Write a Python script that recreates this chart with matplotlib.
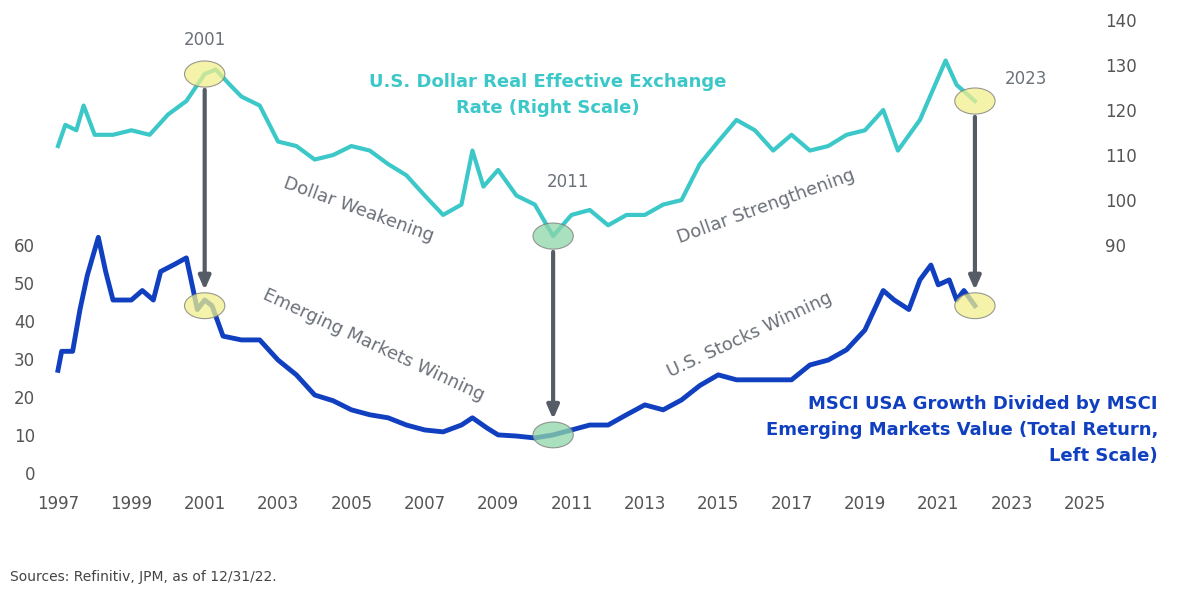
import matplotlib
matplotlib.use("Agg")
import matplotlib.pyplot as plt
from matplotlib.patches import Ellipse

usd_years = [1997.0,1997.2,1997.5,1997.7,1998.0,1998.5,1999.0,1999.5,2000.0,2000.5,2001.0,2001.3,2001.7,2002.0,2002.5,2003.0,2003.5,2004.0,2004.5,2005.0,2005.5,2006.0,2006.5,2007.0,2007.5,2008.0,2008.3,2008.6,2009.0,2009.5,2010.0,2010.5,2011.0,2011.5,2012.0,2012.5,2013.0,2013.5,2014.0,2014.5,2015.0,2015.5,2016.0,2016.5,2017.0,2017.5,2018.0,2018.5,2019.0,2019.5,2019.9,2020.5,2021.2,2021.5,2022.0]
usd_vals = [112,116.7,115.5,121,114.5,114.5,115.5,114.5,119,122,128,129,125.5,123,121,113,112,109,110,112,111,108,105.5,101,96.7,99,111,103,106.7,101,99,92,96.7,97.8,94.4,96.7,96.7,99,100,108,113,117.8,115.5,111,114.5,111,112,114.5,115.5,120,111,117.8,131,125.6,122]

msci_years = [1997.0,1997.1,1997.4,1997.6,1997.8,1998.1,1998.3,1998.5,1999.0,1999.3,1999.6,1999.8,2000.2,2000.5,2000.8,2001.0,2001.2,2001.5,2002.0,2002.5,2003.0,2003.5,2004.0,2004.5,2005.0,2005.5,2006.0,2006.5,2007.0,2007.5,2008.0,2008.3,2008.7,2009.0,2009.5,2010.0,2010.5,2011.0,2011.5,2012.0,2012.5,2013.0,2013.5,2014.0,2014.5,2015.0,2015.5,2016.0,2016.5,2017.0,2017.5,2018.0,2018.5,2019.0,2019.5,2019.8,2020.2,2020.5,2020.8,2021.0,2021.3,2021.5,2021.7,2022.0]
msci_vals = [27,32,32,43,52,62,53,45.5,45.5,48,45.5,53,55,56.6,43,45.5,44,36,35,35,29.7,25.8,20.5,19,16.6,15.3,14.5,12.6,11.3,10.8,12.6,14.5,11.8,10,9.7,9.2,10,11.3,12.6,12.6,15.3,17.9,16.6,19.2,23,25.8,24.5,24.5,24.5,24.5,28.4,29.7,32.4,37.6,48,45.5,43,50.8,54.7,49.5,50.8,45.5,48,44]

x_ticks = list(range(1997, 2026, 2))
left_ticks = [0,10,20,30,40,50,60]
right_ticks = [90,100,110,120,130,140]

CYAN = "#3CC8C8"; BLUE = "#1040C0"; GRAY = "#6b7078"; ARROW = "#555c66"

fig = plt.figure(figsize=(12,6), dpi=100)
ax = fig.add_axes([40/1200, 110/600, 1060/1200, 470/600])
ax2 = ax.twinx()
ax.set_xlim(1996.51, 2025.41)
ax.set_ylim(-4.5, 119.2)
ax2.set_ylim(35.6, 140)
for a in (ax, ax2):
    for s in a.spines.values():
        s.set_visible(False)
    a.tick_params(length=0, labelsize=12, labelcolor="#555")
ax.set_xticks(x_ticks)
ax.set_yticks(left_ticks)
ax2.set_yticks(right_ticks)

ax.plot(msci_years, msci_vals, color=BLUE, lw=3.5, zorder=3)
ax2.plot(usd_years, usd_vals, color=CYAN, lw=3, zorder=3)

# markers & arrows
events = [(2001.0, 128, 44, "#F2F08C", "2001", (2001, 135.5)),
          (2010.5, 92, 10, "#8FD6A8", "2011", (2010.9, 104)),
          (2022.0, 122, 44, "#F2F08C", "2023", (2023.4, 127))]
for x, ry, ly, col, lab, lpos in events:
    ax2.add_patch(Ellipse((x, ry), 1.1, 5.8, facecolor=col, edgecolor="#777", lw=0.8, alpha=0.75, zorder=4))
    ax.add_patch(Ellipse((x, ly), 1.1, 6.8, facecolor=col, edgecolor="#777", lw=0.8, alpha=0.75, zorder=4))
    ax.annotate("", xy=(x, ly + 3.4), xycoords=ax.transData,
                xytext=(x, ry - 2.9), textcoords=ax2.transData,
                arrowprops=dict(arrowstyle="-|>,head_width=0.35,head_length=0.8", color=ARROW, lw=3), zorder=5)
    ax2.text(lpos[0], lpos[1], lab, color=GRAY, fontsize=12, ha="center", va="center")

ax2.text(2010.35, 123.3, "U.S. Dollar Real Effective Exchange\nRate (Right Scale)", color=CYAN,
         fontsize=13, fontweight="bold", ha="center", va="center", linespacing=1.6)
ax2.text(2005.2, 97.8, "Dollar Weakening", color=GRAY, fontsize=13, rotation=-20, ha="center", va="center")
ax2.text(2016.3, 98.5, "Dollar Strengthening", color=GRAY, fontsize=13, rotation=20, ha="center", va="center")
ax.text(2005.6, 33.7, "Emerging Markets Winning", color=GRAY, fontsize=13, rotation=-25, ha="center", va="center")
ax.text(2015.85, 36.3, "U.S. Stocks Winning", color=GRAY, fontsize=13, rotation=25, ha="center", va="center")
fig.text(1158/1200, 1 - 430/600, "MSCI USA Growth Divided by MSCI\nEmerging Markets Value (Total Return,\nLeft Scale)",
         color=BLUE, fontsize=13, fontweight="bold", ha="right", va="center", multialignment="right", linespacing=1.6)
fig.text(10/1200, 1 - 577/600, "Sources: Refinitiv, JPM, as of 12/31/22.", fontsize=10, color="#444", va="center")

fig.savefig("out.png", dpi=100)
